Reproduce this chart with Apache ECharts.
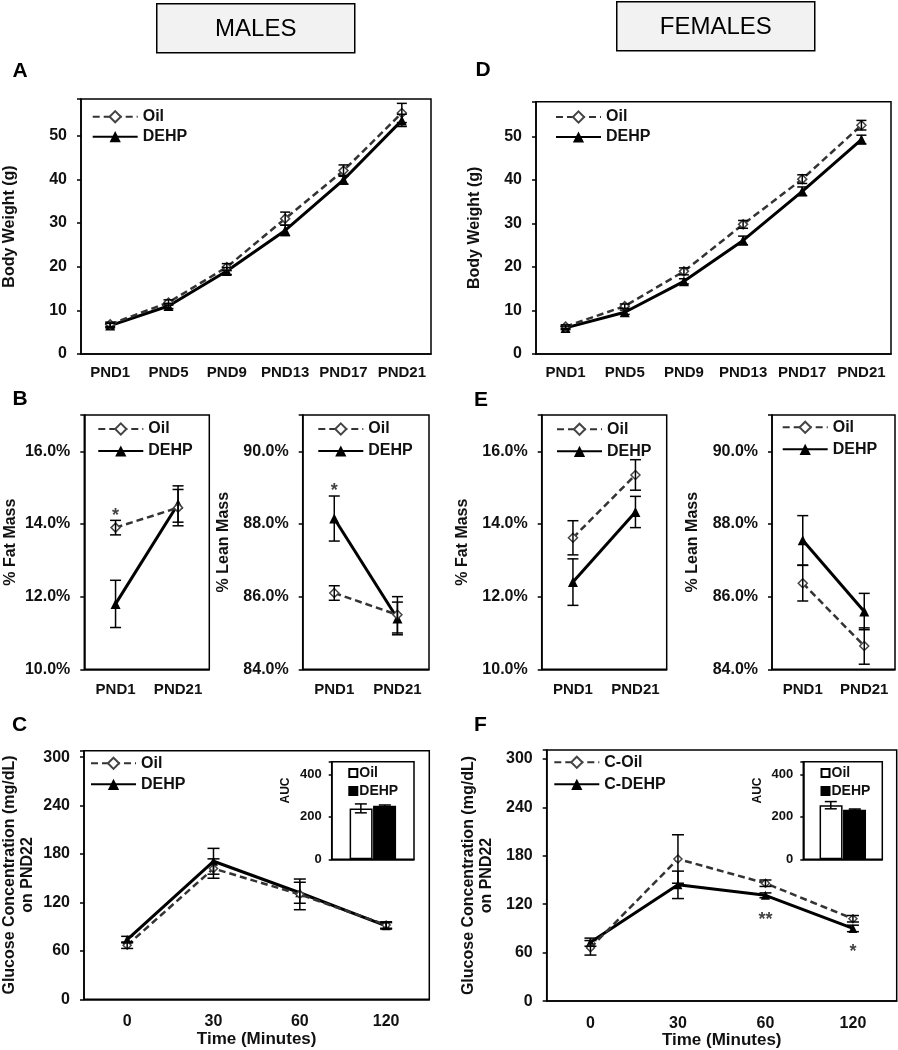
<!DOCTYPE html>
<html>
<head>
<meta charset="utf-8">
<script src="https://cdn.jsdelivr.net/npm/echarts@6/dist/echarts.min.js"></script>
<style>
html, body { margin: 0; padding: 0; background: #fff; }
#chart { width: 898px; height: 1050px; }
</style>
</head>
<body>
<div id="chart"></div>
<script>
// ---- data ----
var pndDays = ['PND1', 'PND5', 'PND9', 'PND13', 'PND17', 'PND21'];
var maleWeightOil = [6.8, 11.8, 19.9, 31.0, 42.0, 55.2];
var maleWeightOilErr = [0.5, 0.6, 0.8, 1.5, 1.3, 2.2];
var maleWeightDehp = [6.5, 11.0, 19.0, 28.3, 39.9, 53.5];
var maleWeightDehpErr = [0.5, 0.6, 0.8, 1.2, 1.0, 1.4];
var femaleWeightOil = [6.3, 11.0, 19.0, 29.8, 40.2, 52.6];
var femaleWeightOilErr = [0.4, 0.5, 0.8, 0.9, 1.0, 1.1];
var femaleWeightDehp = [6.0, 9.6, 16.7, 26.1, 37.4, 49.3];
var femaleWeightDehpErr = [0.4, 0.5, 0.6, 1.0, 1.0, 1.0];

var periods = ['PND1', 'PND21'];
var maleFatOil = [13.9, 14.45];
var maleFatOilErr = [0.2, 0.5];
var maleFatDehp = [11.8, 14.55];
var maleFatDehpErr = [0.65, 0.5];
var maleLeanOil = [86.1, 85.5];
var maleLeanOilErr = [0.2, 0.5];
var maleLeanDehp = [88.15, 85.4];
var maleLeanDehpErr = [0.62, 0.45];
var femaleFatOil = [13.62, 15.35];
var femaleFatOilErr = [0.47, 0.42];
var femaleFatDehp = [12.4, 14.33];
var femaleFatDehpErr = [0.64, 0.43];
var femaleLeanOil = [86.37, 84.64];
var femaleLeanOilErr = [0.49, 0.5];
var femaleLeanDehp = [87.55, 85.59];
var femaleLeanDehpErr = [0.68, 0.5];

var times = ['0', '30', '60', '120'];
var maleGluOil = [67, 162, 130, 92];
var maleGluOilErr = [4, 12, 19, 4];
var maleGluDehp = [74, 171, 132, 91];
var maleGluDehpErr = [4, 16, 13, 4];
var femaleGluOil = [66, 176, 146, 102];
var femaleGluOilErr = [9, 30, 4, 4];
var femaleGluDehp = [73, 144, 131, 90];
var femaleGluDehpErr = [5, 17, 3, 4];

var maleAuc = [240, 252];
var maleAucErr = [21, 4];
var femaleAuc = [255, 234];
var femaleAucErr = [17, 3];

// significance marks: [category index, value, text]
var maleFatStars = [[0, 14.36, '*']];
var maleLeanStars = [[0, 89.05, '*']];
var femaleGluStars = [[2, 106, '**'], [3, 67, '*']];

// ---- helpers ----
var ink = '#111';
var font = 'Liberation Sans, Arial, sans-serif';

function catAxis(gi, cats, size, margin, name, nameGap) {
    return {
        type: 'category', gridIndex: gi, data: cats, boundaryGap: true,
        axisLine: { lineStyle: { color: '#000', width: 1.5 } },
        axisTick: { alignWithLabel: true, interval: 0, length: 4, lineStyle: { color: '#000', width: 1.5 } },
        axisLabel: { interval: 0, hideOverlap: false, fontSize: size, fontWeight: 'bold', color: ink, margin: margin },
        name: name || '', nameLocation: 'middle', nameGap: nameGap || 0,
        nameTextStyle: { fontSize: 17, fontWeight: 'bold', color: ink }
    };
}

function valAxis(gi, min, max, step, fmt, name, nameGap, size) {
    return {
        type: 'value', gridIndex: gi, min: min, max: max, interval: step,
        splitLine: { show: false },
        axisLine: { show: true, lineStyle: { color: '#000', width: 1.5 } },
        axisTick: { show: true, length: 4, lineStyle: { color: '#000', width: 1.5 } },
        axisLabel: {
            fontSize: size || 16, fontWeight: 'bold', color: ink, margin: 14,
            formatter: function (v) { return Math.abs(v % step) < 1e-6 ? fmt(v) : ''; }
        },
        name: name, nameLocation: 'middle', nameGap: nameGap, nameRotate: 90,
        nameTextStyle: { fontSize: 16, fontWeight: 'bold', color: ink, lineHeight: 18 }
    };
}

function oilLine(name, data, gi, size) {
    return {
        name: name, type: 'line', xAxisIndex: gi, yAxisIndex: gi, data: data, z: 4,
        symbol: 'diamond', symbolSize: size || 9,
        lineStyle: { color: '#333', width: 2.5, type: [7, 4] },
        itemStyle: { color: '#fff', borderColor: '#444', borderWidth: 1.5 }
    };
}

function dehpLine(name, data, gi, size) {
    return {
        name: name, type: 'line', xAxisIndex: gi, yAxisIndex: gi, data: data, z: 3,
        symbol: 'triangle', symbolSize: size || 10,
        lineStyle: { color: '#000', width: 3 },
        itemStyle: { color: '#000' }
    };
}

function errBars(mean, err, gi, cap, shift) {
    return {
        type: 'custom', xAxisIndex: gi, yAxisIndex: gi, silent: true, z: 5,
        data: mean.map(function (m, i) { return [i, m - err[i], m + err[i]]; }),
        encode: { x: 0, y: [1, 2] },
        renderItem: function (params, api) {
            var lo = api.coord([api.value(0), api.value(1)]);
            var hi = api.coord([api.value(0), api.value(2)]);
            var x = lo[0] + (shift || 0), h = cap / 2;
            var st = { stroke: '#000', lineWidth: 1.5 };
            return {
                type: 'group', children: [
                    { type: 'line', shape: { x1: x, y1: lo[1], x2: x, y2: hi[1] }, style: st },
                    { type: 'line', shape: { x1: x - h, y1: lo[1], x2: x + h, y2: lo[1] }, style: st },
                    { type: 'line', shape: { x1: x - h, y1: hi[1], x2: x + h, y2: hi[1] }, style: st }
                ]
            };
        }
    };
}

function stars(points, gi) {
    return {
        type: 'scatter', xAxisIndex: gi, yAxisIndex: gi, data: points, z: 6,
        symbol: 'circle', symbolSize: 1, itemStyle: { color: 'transparent' },
        label: {
            show: true, position: 'inside', offset: [0, 5],
            formatter: function (p) { return p.value[2]; },
            fontSize: 18, fontWeight: 'bold', color: ink
        }
    };
}

function lineLegend(left, top, gap, names) {
    return {
        orient: 'vertical', left: left, top: top, padding: 0, itemGap: gap, z: 20,
        itemWidth: 45, itemHeight: 14, selectedMode: false, data: names,
        textStyle: { fontSize: 16, fontWeight: 'bold', color: ink }
    };
}

function barLegend(left, top) {
    return {
        orient: 'vertical', left: left, top: top, padding: 0, itemGap: 4, z: 20,
        itemWidth: 8, itemHeight: 8, icon: 'rect', selectedMode: false,
        data: ['AUC Oil', 'AUC DEHP'],
        formatter: function (n) { return n.replace('AUC ', ''); },
        textStyle: { fontSize: 14, fontWeight: 'bold', color: ink, padding: [0, 0, 0, -3] }
    };
}

var num = function (v) { return String(v); };
var pct = function (v) { return v.toFixed(1) + '%'; };

var frame = { show: true, borderColor: '#000', borderWidth: 1.5, backgroundColor: 'transparent' };
var grids = [
    { left: 80.7, top: 99, width: 350.3, height: 255 },      // A
    { left: 536, top: 101.7, width: 355, height: 252.3 },    // D
    { left: 84.3, top: 415, width: 125, height: 254.3 },     // B fat
    { left: 302.7, top: 415, width: 126.3, height: 254.3 },  // B lean
    { left: 541.7, top: 415, width: 125, height: 254.3 },    // E fat
    { left: 772, top: 415, width: 123, height: 254.3 },      // E lean
    { left: 82.7, top: 750.7, width: 346.6, height: 248.6 }, // C
    { left: 546.7, top: 750, width: 350, height: 252.7 },    // F
    { left: 331.7, top: 761.7, width: 82.3, height: 97.6 },  // C inset
    { left: 803.3, top: 761.7, width: 79, height: 97.6 }     // F inset
].map(function (g, i) {
    return Object.assign({}, frame, g, i >= 8 ? { backgroundColor: '#fff', z: 10 } : {});
});

var xAxes = [
    catAxis(0, pndDays, 15, 11),
    catAxis(1, pndDays, 15, 11),
    catAxis(2, periods, 15, 13),
    catAxis(3, periods, 15, 13),
    catAxis(4, periods, 15, 13),
    catAxis(5, periods, 15, 13),
    catAxis(6, times, 16, 14, 'Time (Minutes)', 32),
    catAxis(7, times, 16, 14, 'Time (Minutes)', 29),
    { type: 'category', gridIndex: 8, data: [''], axisLine: { lineStyle: { color: '#000', width: 1.5 } }, axisTick: { show: false }, axisLabel: { show: false }, z: 10 },
    { type: 'category', gridIndex: 9, data: [''], axisLine: { lineStyle: { color: '#000', width: 1.5 } }, axisTick: { show: false }, axisLabel: { show: false }, z: 10 }
];

var gluName = 'Glucose Concentration (mg/dL)\non PND22';
var yAxes = [
    valAxis(0, 0, 58.4, 10, num, 'Body Weight (g)', 62),
    valAxis(1, 0, 58, 10, num, 'Body Weight (g)', 52),
    valAxis(2, 10, 17, 2, pct, '% Fat Mass', 65),
    valAxis(3, 84, 91, 2, pct, '% Lean Mass', 70),
    valAxis(4, 10, 17, 2, pct, '% Fat Mass', 70),
    valAxis(5, 84, 91, 2, pct, '% Lean Mass', 70),
    valAxis(6, 0, 308, 60, num, gluName, 47),
    valAxis(7, 0, 311, 60, num, gluName, 51),
    valAxis(8, 0, 460, 200, num, 'AUC', 40, 13),
    valAxis(9, 0, 460, 200, num, 'AUC', 40, 13)
];
[8, 9].forEach(function (i) {
    yAxes[i].z = 10;
    yAxes[i].axisTick.length = 3;
    yAxes[i].axisLabel.margin = 10;
    yAxes[i].nameTextStyle = { fontSize: 12, fontWeight: 'bold', color: ink, padding: [0, 0, 0, 40] };
});

function aucBars(vals, errs, gi) {
    return [
        { name: 'AUC Oil', type: 'bar', xAxisIndex: gi, yAxisIndex: gi, z: 11, data: [vals[0]],
          barWidth: 23, barGap: '2%', itemStyle: { color: '#fff', borderColor: '#000', borderWidth: 1.5 } },
        { name: 'AUC DEHP', type: 'bar', xAxisIndex: gi, yAxisIndex: gi, z: 11, data: [vals[1]],
          barWidth: 23, barGap: '2%', itemStyle: { color: '#000', borderColor: '#000', borderWidth: 1.5 } },
        Object.assign(errBars([vals[0]], [errs[0]], gi, 12, -12), { z: 12 }),
        Object.assign(errBars([vals[1]], [errs[1]], gi, 12, 12), { z: 12 })
    ];
}

var series = [
    // A
    oilLine('Oil', maleWeightOil, 0), dehpLine('DEHP', maleWeightDehp, 0),
    errBars(maleWeightOil, maleWeightOilErr, 0, 10), errBars(maleWeightDehp, maleWeightDehpErr, 0, 10),
    // D
    oilLine('Oil', femaleWeightOil, 1), dehpLine('DEHP', femaleWeightDehp, 1),
    errBars(femaleWeightOil, femaleWeightOilErr, 1, 10), errBars(femaleWeightDehp, femaleWeightDehpErr, 1, 10),
    // B
    oilLine('Oil', maleFatOil, 2), dehpLine('DEHP', maleFatDehp, 2),
    errBars(maleFatOil, maleFatOilErr, 2, 11), errBars(maleFatDehp, maleFatDehpErr, 2, 11),
    stars(maleFatStars, 2),
    oilLine('Oil', maleLeanOil, 3), dehpLine('DEHP', maleLeanDehp, 3),
    errBars(maleLeanOil, maleLeanOilErr, 3, 11), errBars(maleLeanDehp, maleLeanDehpErr, 3, 11),
    stars(maleLeanStars, 3),
    // E
    oilLine('Oil', femaleFatOil, 4), dehpLine('DEHP', femaleFatDehp, 4),
    errBars(femaleFatOil, femaleFatOilErr, 4, 11), errBars(femaleFatDehp, femaleFatDehpErr, 4, 11),
    oilLine('Oil', femaleLeanOil, 5), dehpLine('DEHP', femaleLeanDehp, 5),
    errBars(femaleLeanOil, femaleLeanOilErr, 5, 11), errBars(femaleLeanDehp, femaleLeanDehpErr, 5, 11),
    // C
    oilLine('Oil', maleGluOil, 6, 8), dehpLine('DEHP', maleGluDehp, 6, 9),
    errBars(maleGluOil, maleGluOilErr, 6, 12), errBars(maleGluDehp, maleGluDehpErr, 6, 12),
    // F
    oilLine('C-Oil', femaleGluOil, 7, 8), dehpLine('C-DEHP', femaleGluDehp, 7, 9),
    errBars(femaleGluOil, femaleGluOilErr, 7, 12), errBars(femaleGluDehp, femaleGluDehpErr, 7, 12),
    stars(femaleGluStars, 7)
].concat(aucBars(maleAuc, maleAucErr, 8), aucBars(femaleAuc, femaleAucErr, 9));

var legends = [
    lineLegend(91.7, 108.7, 4, ['Oil', 'DEHP']),
    lineLegend(555, 109, 4, ['Oil', 'DEHP']),
    lineLegend(97.3, 421, 6, ['Oil', 'DEHP']),
    lineLegend(317.3, 421, 6, ['Oil', 'DEHP']),
    lineLegend(556, 421.3, 6, ['Oil', 'DEHP']),
    lineLegend(781.7, 419.3, 6, ['Oil', 'DEHP']),
    lineLegend(90, 755.3, 5, ['Oil', 'DEHP']),
    lineLegend(553.3, 754.3, 6, ['C-Oil', 'C-DEHP']),
    barLegend(348.3, 766),
    barLegend(820.5, 766)
];

function header(x, y, label) {
    return {
        type: 'group', left: x, top: y,
        children: [
            { type: 'rect', shape: { x: 0, y: 0, width: 198, height: 49 },
              style: { fill: '#f2f2f2', stroke: '#000', lineWidth: 1.5 } },
            { type: 'text', x: 99, y: 26, style: { text: label, fontSize: 24, fontFamily: font,
              fill: '#000', align: 'center', verticalAlign: 'middle' } }
        ]
    };
}

function panelLetter(x, y, letter) {
    return { type: 'text', x: x, y: y, style: { text: letter, fontSize: 21, fontWeight: 'bold',
             fontFamily: font, fill: '#000', align: 'center', verticalAlign: 'middle' } };
}

var chart = echarts.init(document.getElementById('chart'), null, { renderer: 'canvas' });
chart.setOption({
    animation: false,
    backgroundColor: '#fff',
    textStyle: { fontFamily: font },
    grid: grids,
    xAxis: xAxes,
    yAxis: yAxes,
    legend: legends,
    series: series,
    graphic: [
        header(156, 3, 'MALES'),
        header(616, 1, 'FEMALES'),
        panelLetter(20, 71, 'A'),
        panelLetter(483, 70, 'D'),
        panelLetter(20, 399.5, 'B'),
        panelLetter(481, 400.5, 'E'),
        panelLetter(19.7, 725.5, 'C'),
        panelLetter(480.5, 725.5, 'F')
    ]
});
</script>
</body>
</html>
